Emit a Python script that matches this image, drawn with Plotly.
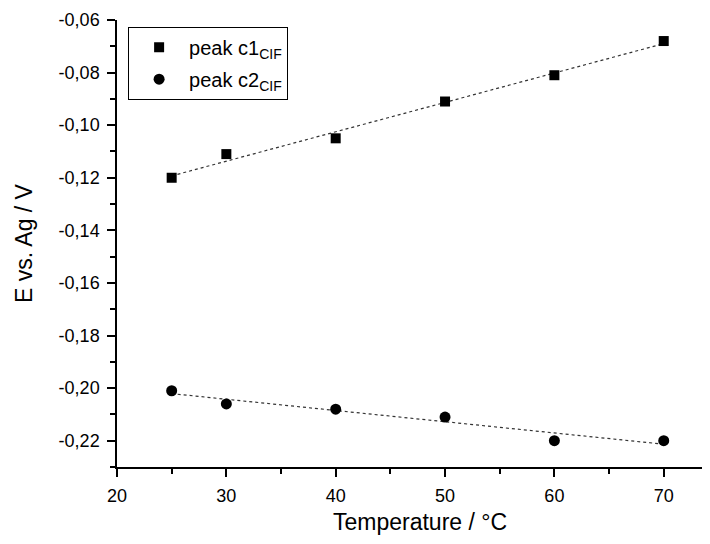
import numpy as np
import plotly.graph_objects as go

temperature = [25, 30, 40, 50, 60, 70]
peak_c1 = [-0.120, -0.111, -0.105, -0.091, -0.081, -0.068]
peak_c2 = [-0.201, -0.206, -0.208, -0.211, -0.220, -0.220]

x_ticks = [20, 30, 40, 50, 60, 70]
y_ticks = [-0.22, -0.20, -0.18, -0.16, -0.14, -0.12, -0.10, -0.08, -0.06]
y_ticktext = ["-0,22", "-0,20", "-0,18", "-0,16", "-0,14", "-0,12", "-0,10", "-0,08", "-0,06"]

FONT = "Liberation Sans, Arial, sans-serif"

fig = go.Figure()

xs = np.array([min(temperature), max(temperature)], dtype=float)
for series in (peak_c1, peak_c2):
    k, b = np.polyfit(temperature, series, 1)
    fig.add_trace(go.Scatter(x=xs, y=k * xs + b, mode="lines",
                             line=dict(color="#333333", width=1.2, dash="dot"),
                             showlegend=False, hoverinfo="skip"))

fig.add_trace(go.Scatter(x=temperature, y=peak_c1, mode="markers",
                         name="peak c1<sub>CIF</sub>", legendgroup="a",
                         marker=dict(symbol="square", size=10, color="black")))
fig.add_trace(go.Scatter(x=temperature, y=peak_c2, mode="markers",
                         name="peak c2<sub>CIF</sub>", legendgroup="b",
                         marker=dict(symbol="circle", size=11, color="black")))

fig.update_layout(
    width=694, height=528,
    margin=dict(l=109, r=0, t=12, b=69, autoexpand=False),
    paper_bgcolor="white", plot_bgcolor="white",
    font=dict(family=FONT, size=18, color="black"),
    showlegend=True,
    legend=dict(x=0.019, y=0.985, xanchor="left", yanchor="top",
                bordercolor="black", borderwidth=1, bgcolor="white",
                font=dict(size=20), itemwidth=50, tracegroupgap=3,
                traceorder="grouped"),
    annotations=[dict(text="Temperature / °C", xref="paper", yref="paper",
                      x=0.518, y=-0.123, xanchor="center", yanchor="middle",
                      showarrow=False, font=dict(size=23))],
)
fig.update_xaxes(
    range=[20, 73.5], tickmode="array", tickvals=x_ticks,
    showline=True, linecolor="black", linewidth=1.5,
    ticks="outside", ticklen=8, tickwidth=1.5, tickcolor="black",
    ticklabelstandoff=4,
    minor=dict(tickmode="linear", tick0=25, dtick=10, ticks="outside",
               ticklen=5, tickwidth=1.5, tickcolor="black"),
    showgrid=False, zeroline=False, automargin=False,
    tickfont=dict(size=18),
)
fig.update_yaxes(
    range=[-0.23, -0.06], tickmode="array", tickvals=y_ticks, ticktext=y_ticktext,
    showline=True, linecolor="black", linewidth=1.5,
    ticks="outside", ticklen=8, tickwidth=1.5, tickcolor="black",
    ticklabelstandoff=4,
    minor=dict(tickmode="linear", tick0=-0.23, dtick=0.02, ticks="outside",
               ticklen=5, tickwidth=1.5, tickcolor="black"),
    showgrid=False, zeroline=False, automargin=False,
    tickfont=dict(size=18),
    title=dict(text="E vs. Ag / V", font=dict(size=23), standoff=20),
)

fig.write_html("out.html")
